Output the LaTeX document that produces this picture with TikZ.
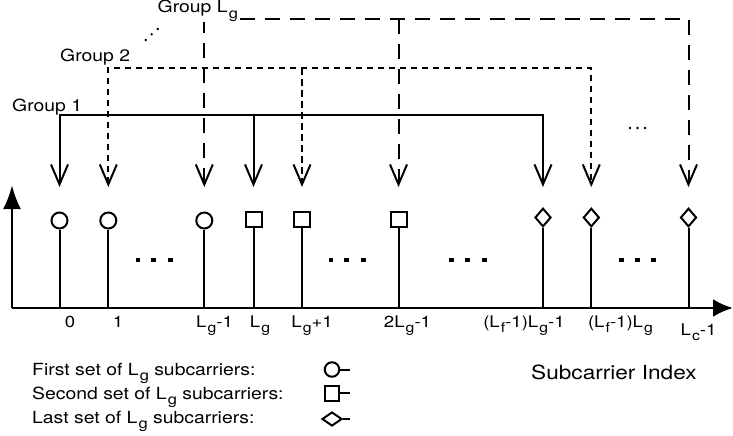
\documentclass[tikz,border=0pt]{standalone}
\usepackage{fontspec}
\setmainfont{TeX Gyre Heros}
\usetikzlibrary{arrows.meta,shapes.geometric}
\newcommand{\sbg}[1]{\kern0.06em\raisebox{-0.32em}{\scalebox{0.85}{#1}}}
\newcommand{\sx}[1]{\scalebox{1.16}[1]{#1}}
\begin{document}
\begin{tikzpicture}[x=1pt,y=-1pt,
  axisline/.style={line width=2.8pt},
  stemline/.style={line width=2pt},
  circmark/.style={circle,draw,line width=2pt,minimum size=16pt,inner sep=0pt},
  sqmark/.style={rectangle,draw,line width=2pt,minimum width=16pt,minimum height=15.5pt,inner sep=0pt},
  diamark/.style={diamond,draw,line width=2pt,minimum width=16pt,minimum height=18.5pt,inner sep=0pt},
  grpone/.style={line width=2pt},
  grptwo/.style={line width=2pt,dash pattern=on 6.5pt off 4.5pt},
  grplast/.style={line width=2pt,dash pattern=on 15pt off 10pt},
  barb/.tip={Straight Barb[length=20pt,width=17pt,line width=2pt]},
  downtip/.style={-barb},
  bothtip/.style={barb-barb},
  ticklab/.style={anchor=base,font=\fontsize{16}{18}\selectfont,inner sep=0pt},
  grplab/.style={anchor=base west,font=\fontsize{16.7}{19}\selectfont,inner sep=0pt},
  leglab/.style={anchor=base west,font=\fontsize{16.7}{19}\selectfont,inner sep=0pt},
  bigdot/.style={fill,minimum width=4.5pt,minimum height=4.2pt,inner sep=0pt,rectangle},
  smalldot/.style={fill,circle,minimum size=2.6pt,inner sep=0pt}
]
\useasboundingbox (0,0) rectangle (733,436);

% axes
\coordinate (o) at (12,308);
\coordinate (xend) at (733,308);
\coordinate (yend) at (12,185);
\draw[axisline,-{Latex[length=20pt,width=18pt]}] (o) -- (xend);
\draw[axisline,-{Latex[length=24pt,width=18pt]}] (o) -- (yend);

% markers
\node[circmark] (m0) at (59.5,220.5) {};
\node[circmark] (m1) at (108.3,220.5) {};
\node[circmark] (m2) at (204.3,220.5) {};
\node[sqmark] (m3) at (253.5,219.5) {};
\node[sqmark] (m4) at (302,219.5) {};
\node[sqmark] (m5) at (398.5,219.5) {};
\node[diamark] (m6) at (543,217.5) {};
\node[diamark] (m7) at (591.3,217.5) {};
\node[diamark] (m8) at (688.5,217.5) {};

% stems
\foreach \i in {0,...,8} {
  \draw[stemline] (m\i.south) -- (m\i.south |- o);
}

% group 1
\coordinate (g1a) at (m0.center |- 0,115);
\coordinate (g1b) at (m6.center |- 0,115);
\coordinate (g1m) at (m3.center |- 0,115);
\draw[grpone,bothtip] (m0.center |- 0,187) -- (g1a) -- (g1b) -- (m6.center |- 0,187);
\draw[grpone,downtip] (g1m) -- (m3.center |- 0,187);

% group 2
\coordinate (g2a) at (m1.center |- 0,68);
\coordinate (g2b) at (m7.center |- 0,68);
\coordinate (g2m) at (m4.center |- 0,68);
\draw[grptwo,bothtip] (m1.center |- 0,187) -- (g2a) -- (g2b) -- (m7.center |- 0,187);
\draw[grptwo,downtip] (g2m) -- (m4.center |- 0,187);

% group Lg
\coordinate (g3a) at (m2.center |- 0,19);
\coordinate (g3b) at (m8.center |- 0,19);
\coordinate (g3m) at (m5.center |- 0,19);
\draw[grplast,bothtip] (m2.center |- 0,187) -- (g3a) -- (g3b) -- (m8.center |- 0,187);
\draw[grplast,downtip] (g3m) -- (m5.center |- 0,187);

% group labels
\node[grplab] (lab1) at (12,111) {\sx{Group 1}};
\node[grplab] (lab2) at (60,62) {\sx{Group 2}};
\node[grplab,fill=white,inner sep=0.5pt] (lab3) at (157,13) {\sx{Group L\sbg{g}}};
\node[smalldot] (dd1) at (145.7,40) {};
\node[smalldot] (dd2) at (151.7,34.3) {};
\node[smalldot] (dd3) at (157.7,29) {};

% small dots top right
\node[smalldot] (sd1) at (630,128) {};
\node[smalldot] (sd2) at (637.5,128) {};
\node[smalldot] (sd3) at (645,128) {};

% big dots
\foreach \xx [count=\k] in {138,153.7,170.3, 331,346.7,363.3, 451.7,467.3,484.3, 621.7,637.3,653.3} {
  \node[bigdot] (bd\k) at (\xx,260) {};
}

% tick labels
\node[ticklab] (x0) at (70,327) {\sx{0}};
\node[ticklab] (x1) at (118,327) {\sx{1}};
\node[ticklab] (x2) at (214.5,327) {\sx{L\sbg{g}-1}};
\node[ticklab] (x3) at (260,327) {\sx{L\sbg{g}}};
\node[ticklab] (x4) at (312,327) {\sx{L\sbg{g}+1}};
\node[ticklab] (x5) at (407.5,327) {\sx{2L\sbg{g}-1}};
\node[ticklab] (x6) at (524,327) {\sx{(L\sbg{f}-1)L\sbg{g}-1}};
\node[ticklab] (x7) at (620.5,327) {\sx{(L\sbg{f}-1)L\sbg{g}}};
\node[ticklab] (x8) at (698.5,335) {\sx{L\sbg{c}-1}};

% legend
\node[leglab] (lg1) at (32,375) {\sx{First set of L\sbg{g} subcarriers:}};
\node[leglab] (lg2) at (32,399) {\sx{Second set of L\sbg{g} subcarriers:}};
\node[leglab] (lg3) at (32,423) {\sx{Last set of L\sbg{g} subcarriers:}};
\node[circle,draw,line width=2pt,minimum size=14.5pt,inner sep=0pt] (lc) at (332,369.5) {};
\coordinate (lce) at (350,369.5);
\draw[line width=2pt] (lc.east) -- (lce);
\node[rectangle,draw,line width=2pt,minimum width=13.5pt,minimum height=15pt,inner sep=0pt] (ls) at (332,393) {};
\coordinate (lse) at (350,393);
\draw[line width=2pt] (ls.east) -- (lse);
\node[diamond,draw,line width=2pt,minimum width=20pt,minimum height=14pt,inner sep=0pt] (ld) at (332,419) {};
\coordinate (lde) at (350,419);
\draw[line width=2pt] (ld.east) -- (lde);

\node[anchor=base west,font=\fontsize{19.5}{22}\selectfont,inner sep=0pt] (si) at (531,379) {\sx{Subcarrier Index}};
\end{tikzpicture}
\end{document}
